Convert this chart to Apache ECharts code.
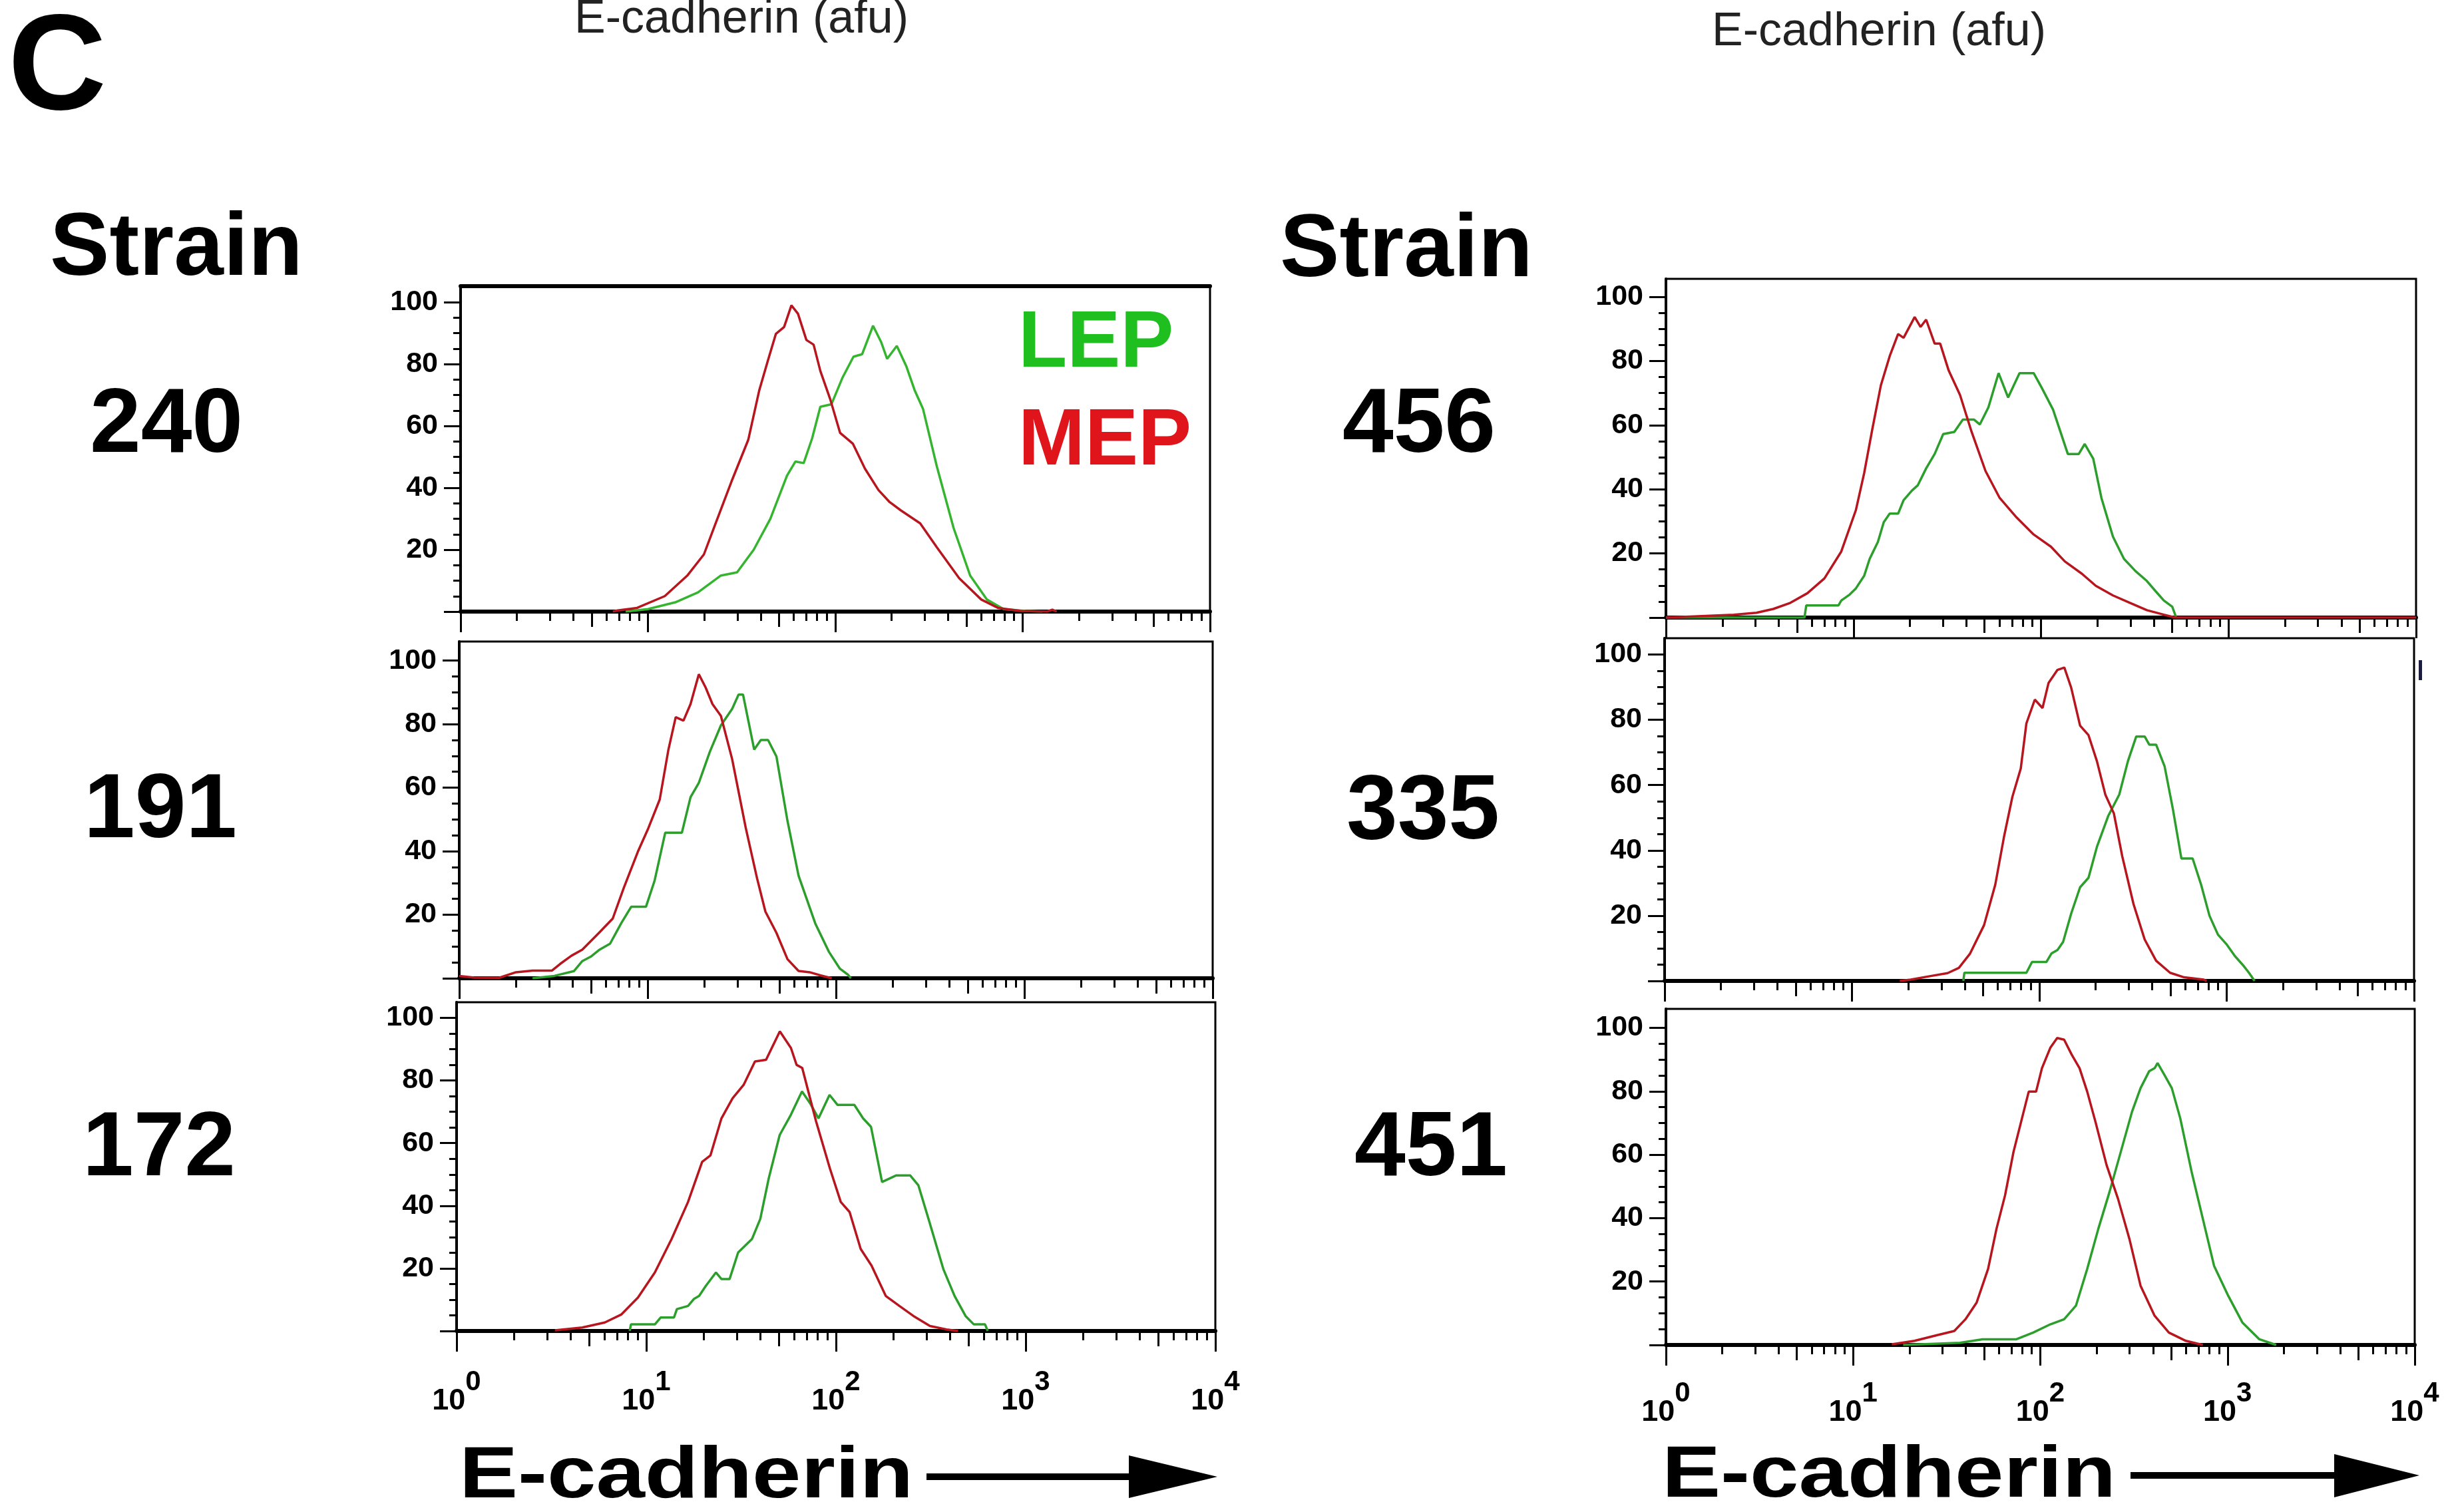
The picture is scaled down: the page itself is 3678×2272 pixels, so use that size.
<!DOCTYPE html>
<html>
<head>
<meta charset="utf-8">
<script src="https://cdn.jsdelivr.net/npm/echarts@6/dist/echarts.min.js"></script>
<style>
html, body { margin: 0; padding: 0; background: #fff; }
#chart { width: 3678px; height: 2272px; }
</style>
</head>
<body>
<div id="chart"></div>
<script>
// strain order: left column top->bottom, then right column
var strains = ['240', '191', '172', '456', '335', '451'];

// x axis (log) ticks
var decadeTicks = [1, 10, 100, 1000, 10000];
var halfTicks = [5, 50, 500, 5000];
var minorTicks = [2, 3, 4, 6, 7, 8, 9, 20, 30, 40, 60, 70, 80, 90,
  200, 300, 400, 600, 700, 800, 900, 2000, 3000, 4000, 6000, 7000, 8000, 9000];
// y axis ticks
var yMajor = [0, 20, 40, 60, 80, 100];
var yLabels = [20, 40, 60, 80, 100];
var yMinor = [5, 10, 15, 25, 30, 35, 45, 50, 55, 65, 70, 75, 85, 90, 95];

// histograms: [E-cadherin (afu), % of max]
var lep240 = [[7.6,0],[10,0.8],[14,3],[18.5,6.2],[24.4,11.6],[29.9,12.7],[36.7,20],[45,30],[55.2,43.9],[61.2,48.5],[67.8,48],[75.2,56],[83.2,66.2],[95.3,67],[109,75.5],[125,82.4],[139,83.2],[159,92.4],[176,87],[189,81.7],[213,85.9],[239,79.4],[265,71.6],[294,65.5],[348,47],[428,27],[525,11.6],[644,3.9],[791,0.8],[1038,0.2],[1274,0]];
var mep240 = [[6.5,0],[6.9,0.4],[8.75,1.2],[12.3,5],[16.2,11.6],[19.9,18.5],[22.8,28],[27.9,42],[34.3,55.5],[39.3,71.6],[43.6,81],[48.2,89.8],[53.3,92],[58.3,99],[63.2,96.3],[70.1,87.8],[76.6,86.3],[83.2,77.8],[94,68.6],[106,57.8],[124,54.3],[144,46.2],[170,39.3],[195,35.4],[224,32.7],[284,28.5],[348,20.8],[458,10.8],[601,3.9],[738,1.2],[971,0.2],[1350,0],[1440,0.6],[1520,0]];

var lep191 = [[2.45,0],[3.2,0.75],[4.06,2.25],[4.5,5.4],[4.99,6.8],[5.52,8.9],[6.32,10.9],[7.24,17.3],[8.18,22.5],[9.8,22.5],[10.9,30.8],[12.4,45.8],[15.2,45.8],[16.9,57],[18.7,61.5],[21.4,71.3],[24.5,79.6],[28.1,84.8],[30.4,89.3],[32.1,89.3],[36.8,72],[39.9,75],[43.6,75],[48.3,69.8],[55.3,49.5],[63.3,32.3],[77.6,17.3],[91.8,8.3],[105,3],[116,1.1],[120,0]];
var mep191 = [[1,0.75],[1.2,0.2],[1.63,0.15],[2.0,1.9],[2.45,2.4],[3.1,2.4],[3.43,4.5],[3.94,7.1],[4.5,9],[5.52,14.3],[6.53,18.8],[7.48,28.5],[8.87,39.8],[10.1,47.3],[11.6,56.3],[12.9,72],[14.1,82.2],[15.5,81.1],[16.9,86.3],[18.7,95.7],[20.3,91.6],[22.1,86.3],[24.5,82.6],[28.1,69],[33.2,47.3],[38.1,31.5],[42.2,21],[48.3,14.3],[55.3,6],[63.3,2.3],[72.5,1.9],[83,0.9],[95,0]];

var lep172 = [[8.18,0],[8.3,2.1],[11.1,2.1],[11.9,4.3],[14,4.3],[14.5,7],[16.6,8],[17.8,10.2],[19,11.2],[20.6,14.4],[23.3,18.7],[24.9,16.6],[27.5,16.6],[30.5,25.1],[36.1,29.4],[39.9,35.8],[44.2,48.7],[50.5,62.6],[57.8,69],[66.2,76.5],[73.1,72.7],[80.9,67.9],[92.5,75.4],[102,72.2],[125,72.2],[139,67.9],[153,65.2],[175,47.6],[208,49.7],[246,49.7],[272,46.5],[311,34.8],[368,19.8],[422,11.2],[482,4.8],[533,2.1],[611,2.1],[631,0]];
var mep172 = [[3.3,0.2],[4.6,1.1],[6.04,2.7],[7.4,5.3],[9.04,10.7],[11.1,18.7],[13.6,29.4],[16.6,41.2],[19.7,54],[21.8,56.1],[24.9,67.9],[28.5,74.3],[32.6,78.6],[37.4,86.1],[42.8,86.6],[50.6,95.7],[57.9,90.4],[62,85],[66.4,84],[78.5,67],[92.9,51.9],[106,41.2],[118,38],[135,26.2],[154,20.9],[183,11.2],[216,8],[256,4.8],[313,1.6],[383,0.5],[440,0]];

var lep456 = [[1,0],[5.48,0],[5.6,3.8],[8.32,3.8],[8.61,5.3],[9.55,7.2],[10.3,9.1],[11.4,13],[12.2,18.3],[13.5,23.6],[14.5,29.7],[15.6,32.4],[17.3,32.4],[18.5,36.6],[20.5,39.6],[22,41.2],[24.4,46.5],[27.1,51],[30.1,57.2],[34.5,57.9],[38.3,61.7],[44,61.7],[47.2,60.2],[52.4,65.5],[59.4,76.2],[66.8,68.6],[71.6,72.4],[76.8,76.2],[91.4,76.2],[101,71.6],[116,64.8],[139,51],[159,51],[171,54.1],[190,49.5],[210,37.3],[242,25.2],[277,18.3],[319,14.5],[367,11.4],[406,8.4],[452,5.3],[501,3.4],[526,0]];
var mep456 = [[1,0],[2.3,0.9],[3.04,1.5],[3.74,2.7],[4.61,4.6],[5.68,7.6],[7.0,12.2],[8.61,20.6],[10.3,33.5],[11.4,45],[12.6,58.7],[14,72.4],[15.6,81.5],[17.3,88.4],[18.5,87.2],[21.2,93.7],[22.8,90.6],[24.4,92.9],[27.1,85.4],[29,85.4],[32.2,77],[37,69.4],[42.6,58],[50.6,45.7],[60.2,37.3],[74.1,31.2],[91.4,25.9],[113,22.1],[134,17.5],[165,13.7],[196,9.9],[242,6.9],[298,4.6],[367,2.3],[452,0.9],[519,0],[10000,0]];

var lep335 = [[39.3,0],[39.8,2.5],[85.3,2.5],[91.4,5.8],[109,5.8],[116,8.4],[125,9.5],[134,12],[148,20.7],[165,28.7],[183,31.6],[203,41.1],[233,50.5],[267,57.1],[297,67.3],[329,74.9],[365,74.9],[386,72.4],[420,72.4],[466,65.8],[516,52.7],[573,37.5],[658,37.5],[730,29.5],[809,20],[898,14.2],[996,11.3],[1107,7.6],[1227,4.7],[1315,2.5],[1409,0]];
var mep335 = [[18,0],[20.6,0.4],[26.3,1.5],[32.4,2.4],[37.2,4],[42.7,8.4],[50.7,17.1],[58.2,29.5],[64.7,44],[71.8,56.4],[79.6,65.1],[85.3,78.9],[94.6,86.2],[104,83.6],[112,91.3],[125,95.3],[136,96],[148,89.8],[165,78.2],[183,75.3],[203,67.3],[225,57.1],[250,51.3],[277,38.2],[318,23.6],[365,12.7],[420,6.2],[499,2.5],[593,1.1],[755,0.4],[782,0]];

var lep451 = [[18.5,0],[37.2,0.7],[49.1,1.8],[74.5,1.8],[91.6,3.9],[113,6.5],[134,8.1],[155,12.4],[178,24],[204,36.6],[234,48.2],[269,60.9],[309,73.6],[343,81],[381,86.3],[408,87.3],[423,88.9],[460,85.2],[504,81],[559,71.5],[643,54.6],[738,39.8],[847,25],[1009,15.5],[1200,7.1],[1479,1.8],[1820,0]];
var mep451 = [[16.1,0.2],[21.3,1.3],[28.1,3.1],[34.7,4.4],[39.8,8.1],[45.7,13.4],[52.6,24],[58.3,36.6],[64.8,47.2],[71.9,60.9],[79.8,71.5],[86.7,79.9],[94.9,79.9],[102,87.3],[113,93.7],[123,96.8],[134,96.3],[147,91.6],[162,87.3],[178,79.9],[197,70.4],[226,56.7],[260,46.1],[299,33.5],[343,18.7],[408,9.2],[486,3.9],[599,1.3],[738,0]];

var lepData = [lep240, lep191, lep172, lep456, lep335, lep451];
var mepData = [mep240, mep191, mep172, mep456, mep335, mep451];

// panel boxes in page pixels
var panels = [
  { left: 692,  top: 430,  width: 1126, height: 489, ymax: 105.2, labels: false, labelX: 250,  labelY: 641 },
  { left: 690,  top: 964,  width: 1132, height: 506, ymax: 106,   labels: false, labelX: 241,  labelY: 1220 },
  { left: 686,  top: 1506, width: 1140, height: 494, ymax: 105,   labels: true,  labelX: 239,  labelY: 1728 },
  { left: 2503, top: 419,  width: 1127, height: 509, ymax: 105.6, labels: false, labelX: 2132, labelY: 641 },
  { left: 2501, top: 959,  width: 1126, height: 515, ymax: 105,   labels: false, labelX: 2138, labelY: 1222 },
  { left: 2503, top: 1516, width: 1125, height: 505, ymax: 106,   labels: true,  labelX: 2150, labelY: 1728 }
];

var GREENS = ['#35b52f', '#2c9e2c', '#2c9e2c', '#2c9e2c', '#2c9e2c', '#2c9e2c'];
var RED = '#b8161f';
var FONT = '"Liberation Sans", Arial, Helvetica, sans-serif';

var chart = echarts.init(document.getElementById('chart'));

var grids = [], xAxes = [], yAxes = [], series = [];

panels.forEach(function (p, i) {
  grids.push({
    left: p.left, top: p.top, width: p.width, height: p.height,
    show: true, borderColor: '#000', borderWidth: 3, backgroundColor: 'transparent'
  });

  var xBase = {
    type: 'log', logBase: 10, min: 1, max: 10000, gridIndex: i, position: 'bottom',
    splitLine: { show: false }, minorTick: { show: false }
  };
  // decades: long ticks, labels
  xAxes.push(Object.assign({}, xBase, {
    axisLine: { show: true, onZero: false, lineStyle: { color: '#000', width: 6 } },
    axisTick: { show: true, customValues: decadeTicks, length: 31, lineStyle: { color: '#000', width: 3 } },
    axisLabel: p.labels ? {
      show: true,
      customValues: decadeTicks,
      margin: i === 2 ? 56 : 52,
      formatter: function (v) { return '{b|10}{s|' + Math.round(Math.log10(v)) + '}'; },
      rich: {
        b: { fontSize: 45, fontWeight: 'bold', fontFamily: FONT, color: '#000', verticalAlign: 'bottom' },
        s: { fontSize: 42, fontWeight: 'bold', fontFamily: FONT, color: '#000', verticalAlign: 'bottom', padding: [0, 0, 30, 0] }
      }
    } : { show: false }
  }));
  // fives: medium ticks
  xAxes.push(Object.assign({}, xBase, {
    axisLine: { show: false, onZero: false },
    axisTick: { show: true, customValues: halfTicks, length: 23, lineStyle: { color: '#000', width: 3 } },
    axisLabel: { show: false }
  }));
  // other minors: short ticks
  xAxes.push(Object.assign({}, xBase, {
    axisLine: { show: false, onZero: false },
    axisTick: { show: true, customValues: minorTicks, length: 14, lineStyle: { color: '#000', width: 3 } },
    axisLabel: { show: false }
  }));

  yAxes.push({
    type: 'value', min: 0, max: p.ymax, gridIndex: i, position: 'left',
    splitLine: { show: false },
    axisLine: { show: true, onZero: false, lineStyle: { color: '#000', width: 4 } },
    axisTick: { show: true, customValues: yMajor, length: 25, lineStyle: { color: '#000', width: 3 } },
    axisLabel: { show: true, customValues: yLabels, margin: 34, fontSize: 43, fontWeight: 'bold', fontFamily: FONT, color: '#000' }
  });
  yAxes.push({
    type: 'value', min: 0, max: p.ymax, gridIndex: i, position: 'left',
    splitLine: { show: false },
    axisLine: { show: false, onZero: false },
    axisTick: { show: true, customValues: yMinor, length: 11, lineStyle: { color: '#000', width: 3 } },
    axisLabel: { show: false }
  });

  series.push({
    name: 'LEP ' + strains[i], type: 'line', xAxisIndex: 3 * i, yAxisIndex: 2 * i,
    data: lepData[i], showSymbol: false, symbol: 'none', z: 3,
    lineStyle: { color: GREENS[i], width: 3.5 }, itemStyle: { color: GREENS[i] }
  });
  series.push({
    name: 'MEP ' + strains[i], type: 'line', xAxisIndex: 3 * i, yAxisIndex: 2 * i,
    data: mepData[i], showSymbol: false, symbol: 'none', z: 4,
    lineStyle: { color: RED, width: 3.5 }, itemStyle: { color: RED }
  });
});

// thick top border of the first panel
xAxes.push({
  type: 'log', logBase: 10, min: 1, max: 10000, gridIndex: 0, position: 'top',
  splitLine: { show: false },
  axisLine: { show: true, onZero: false, lineStyle: { color: '#000', width: 6 } },
  axisTick: { show: false }, axisLabel: { show: false }
});

function txt(x, y, text, size, weight, color, align, extra) {
  var el = {
    type: 'text', x: x, y: y, z: 10,
    style: {
      text: text, fontSize: size, fontWeight: weight, fontFamily: FONT,
      fill: color, align: align || 'center', verticalAlign: 'middle'
    }
  };
  return Object.assign(el, extra || {});
}

var graphics = [
  txt(1114, 30, 'E-cadherin (afu)', 70, 'normal', '#222'),
  txt(2823, 49, 'E-cadherin (afu)', 70, 'normal', '#222'),
  txt(12, 107, 'C', 205, 'bold', '#000', 'left'),
  txt(265, 376, 'Strain', 134, 'bold', '#000'),
  txt(2113, 378, 'Strain', 134, 'bold', '#000'),
  txt(1530, 518, 'LEP', 120, 'bold', '#1fbf1f', 'left'),
  txt(1530, 665, 'MEP', 120, 'bold', '#e0141b', 'left'),
  // x axis titles with arrows
  txt(690, 2220, 'E-cadherin', 110, 'bold', '#000', 'left', { scaleX: 1.2 }),
  txt(2497, 2219, 'E-cadherin', 110, 'bold', '#000', 'left', { scaleX: 1.2 }),
  { type: 'line', z: 10, shape: { x1: 1392, y1: 2219, x2: 1705, y2: 2219 }, style: { stroke: '#000', lineWidth: 10 } },
  { type: 'polygon', z: 10, shape: { points: [[1696, 2187], [1829, 2219], [1696, 2251]] }, style: { fill: '#000' } },
  { type: 'line', z: 10, shape: { x1: 3201, y1: 2217, x2: 3515, y2: 2217 }, style: { stroke: '#000', lineWidth: 10 } },
  { type: 'polygon', z: 10, shape: { points: [[3507, 2185], [3635, 2217], [3507, 2250]] }, style: { fill: '#000' } },
  // stray mark at right edge of the middle right panel
  { type: 'rect', z: 10, shape: { x: 3634, y: 992, width: 5, height: 30 }, style: { fill: '#1c1c3c' } }
];

panels.forEach(function (p, i) {
  graphics.push(txt(p.labelX, p.labelY, strains[i], 138, 'bold', '#000'));
});

chart.setOption({
  animation: false,
  backgroundColor: '#fff',
  grid: grids,
  xAxis: xAxes,
  yAxis: yAxes,
  series: series,
  graphic: graphics
});
</script>
</body>
</html>
